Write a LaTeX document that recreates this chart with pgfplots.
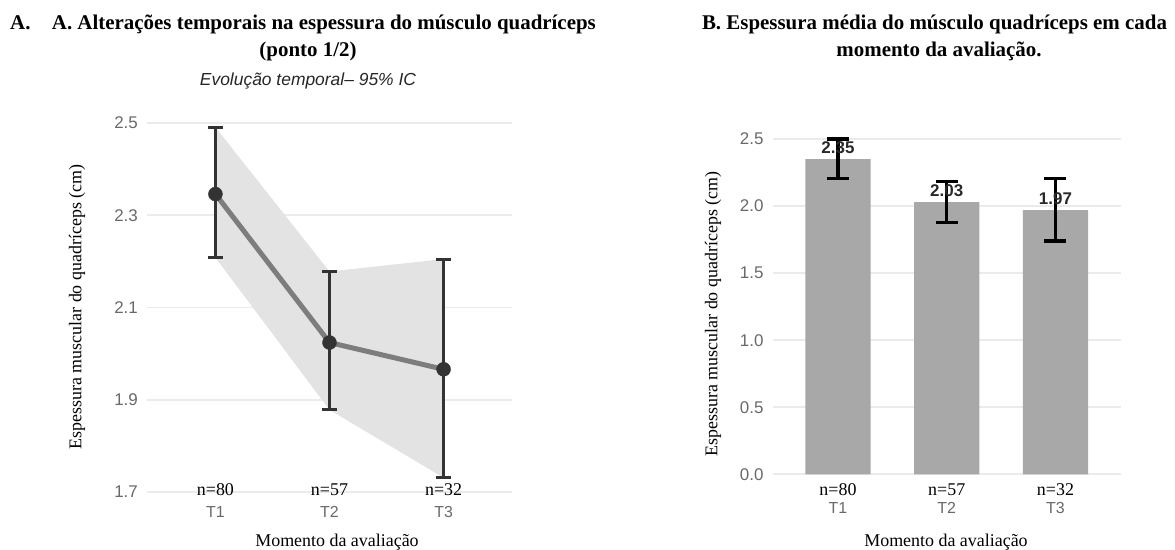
\documentclass[border=0pt]{standalone}
\usepackage{pgfplots}
\usepackage{pgfplotstable}
\pgfplotsset{compat=1.18}
\usepackage{fontspec}
\setmainfont{Liberation Serif}
\setsansfont{Liberation Sans}
\definecolor{tickgray}{RGB}{105,105,105}
\definecolor{gridgray}{RGB}{235,235,235}
\definecolor{ribbon}{RGB}{227,227,227}
\definecolor{linegray}{RGB}{125,125,125}
\definecolor{dark}{RGB}{51,51,51}
\definecolor{bargray}{RGB}{168,168,168}

\pgfplotstableread{
x y ep em
1 2.346 0.145 0.138
2 2.024 0.154 0.146
3 1.966 0.239 0.235
}\lefttab

\pgfplotstableread{
x y ep em lab
1 2.35 0.150 0.146 2.35
2 2.03 0.155 0.150 2.03
3 1.97 0.234 0.230 1.97
}\righttab

\pgfplotsset{
  common/.style={
    scale only axis, anchor=south west, clip=false,
    xmin=0.4, xmax=3.6,
    axis line style={draw=none},
    major tick length=0pt,
    ymajorgrids,
    grid style={gridgray, line width=1.8bp},
    xtick={1,2,3}, xticklabels={T1,T2,T3},
    /pgf/number format/assume math mode=true,
    yticklabel style={font=\fontsize{17}{17}\sffamily, text=tickgray, anchor=east, inner sep=0pt, xshift=-9bp,
      /pgf/number format/.cd, fixed, fixed zerofill, precision=1},
  }
}

\begin{document}
\begin{tikzpicture}[x=1bp,y=1bp]
\useasboundingbox (0,0) rectangle (1175,550);

% ---------------- Panel A ----------------
\begin{axis}[common,
  at={(147bp,48.8bp)}, width=365bp, height=392bp,
  ymin=1.68, ymax=2.53,
  ytick={1.7,1.9,2.1,2.3,2.5},
  xticklabel style={font=\fontsize{16}{16}\sffamily, text=tickgray, anchor=center, inner sep=0pt, yshift=-10.5bp},
]
\addplot[fill=ribbon, draw=none] coordinates {(1,2.491) (2,2.178) (3,2.205) (3,1.731) (2,1.878) (1,2.208)} -- cycle;
\addplot[linegray, line width=5bp, mark=none] table[x=x,y=y] {\lefttab};
\addplot[dark, only marks, mark=*, mark size=7bp, mark options={fill=dark, draw=dark},
  error bars/.cd, y dir=both, y explicit,
  error bar style={line width=3bp, dark},
  error mark options={rotate=90, line width=3bp, dark, mark size=7.5bp}]
  table[x=x,y=y,y error plus=ep,y error minus=em] {\lefttab};
\node[font=\fontsize{18}{18}\selectfont, yshift=2bp] at (axis cs:1,1.7) {n=80};
\node[font=\fontsize{18}{18}\selectfont, yshift=2bp] at (axis cs:2,1.7) {n=57};
\node[font=\fontsize{18}{18}\selectfont, yshift=2bp] at (axis cs:3,1.7) {n=32};
\end{axis}

% ---------------- Panel B ----------------
\begin{axis}[common,
  at={(772.7bp,58.9bp)}, width=348bp, height=368.8bp,
  ymin=-0.125, ymax=2.625,
  ytick={0,0.5,1,1.5,2,2.5},
  xticklabel style={font=\fontsize{16}{16}\sffamily, text=tickgray, anchor=center, inner sep=0pt, yshift=-17.2bp},
]
\addplot[ybar, bar width=65.25bp, fill=bargray, draw=none,
  error bars/.cd, y dir=both, y explicit,
  error bar style={line width=3.3bp, black},
  error mark options={rotate=90, line width=3.3bp, black, mark size=11bp}]
  table[x=x,y=y,y error plus=ep,y error minus=em] {\righttab};
\addplot[draw=none, mark=none, nodes near coords, point meta=explicit symbolic,
  nodes near coords style={font=\fontsize{17}{17}\bfseries\sffamily, text=dark!80!black, anchor=center, inner sep=0pt, yshift=11bp}]
  table[x=x,y=y,meta=lab] {\righttab};
\node[font=\fontsize{18}{18}\selectfont, yshift=-15.7bp] at (axis cs:1,0) {n=80};
\node[font=\fontsize{18}{18}\selectfont, yshift=-15.7bp] at (axis cs:2,0) {n=57};
\node[font=\fontsize{18}{18}\selectfont, yshift=-15.7bp] at (axis cs:3,0) {n=32};
\end{axis}

% ---------------- Titles and labels ----------------
\node[anchor=base west, font=\bfseries\fontsize{21}{21}\selectfont, inner sep=0pt] at (10,520) {A.};
\node[anchor=base west, font=\bfseries\fontsize{21}{21}\selectfont, inner sep=0pt] at (51.7,520) {A. Alterações temporais na espessura do músculo quadríceps};
\node[anchor=base, font=\bfseries\fontsize{21}{21}\selectfont, inner sep=0pt] at (308,493) {(ponto 1/2)};
\node[anchor=base, font=\itshape\sffamily\fontsize{17.5}{17.5}\selectfont, inner sep=0pt, text=black!85] at (308,464) {Evolução temporal– 95\% IC};

\node[anchor=base, font=\bfseries\fontsize{21}{21}\selectfont, inner sep=0pt] at (934.5,520) {B. Espessura média do músculo quadríceps em cada};
\node[anchor=base, font=\bfseries\fontsize{21}{21}\selectfont, inner sep=0pt] at (939,493) {momento da avaliação.};

\node[rotate=90, font=\fontsize{18}{18}\selectfont, inner sep=0pt] at (77,243) {Espessura muscular do quadríceps (cm)};
\node[rotate=90, font=\fontsize{18}{18}\selectfont, inner sep=0pt] at (713,236) {Espessura muscular do quadríceps (cm)};

\node[anchor=base, font=\fontsize{18}{18}\selectfont, inner sep=0pt] at (337,3) {Momento da avaliação};
\node[anchor=base, font=\fontsize{18}{18}\selectfont, inner sep=0pt] at (946,3) {Momento da avaliação};
\end{tikzpicture}
\end{document}
